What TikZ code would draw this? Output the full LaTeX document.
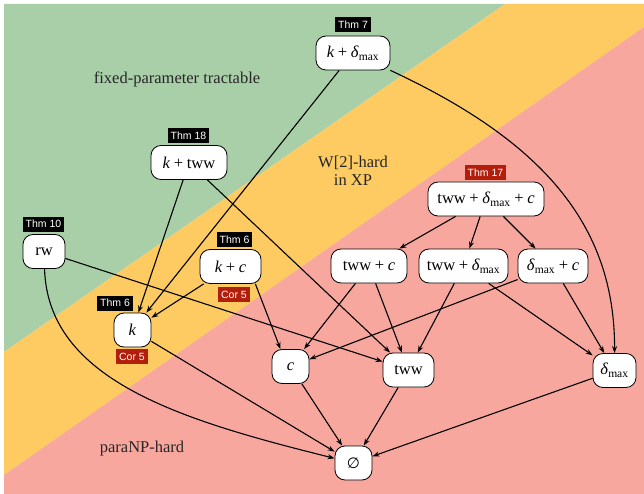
\documentclass[tikz,border=0pt]{standalone}
\usepackage{fontspec}
\setmainfont{Liberation Serif}
\setsansfont{Liberation Sans}
\newfontfamily\symfont{DejaVu Sans}
\usetikzlibrary{arrows.meta}
\definecolor{fptgreen}{RGB}{168,207,167}
\definecolor{xpyellow}{RGB}{253,203,98}
\definecolor{nppink}{RGB}{247,167,158}
\definecolor{lblred}{RGB}{178,30,12}
\newcommand{\pl}{\hspace{0.22em}+\hspace{0.22em}}
\newcommand{\dmx}{\textit{δ}\textsubscript{max}}
\begin{document}
\begin{tikzpicture}[x=1pt,y=1pt,
  pbox/.style={draw=black, line width=0.8pt, fill=white, rounded corners=10pt,
    minimum height=34pt, inner xsep=3pt, inner ysep=2pt,
    font=\fontsize{16.5}{19.8}\selectfont},
  thmlbl/.style={fill=black, text=white, font=\sffamily\fontsize{10.5}{12}\selectfont,
    inner xsep=3pt, inner ysep=2pt, minimum height=15pt},
  redlbl/.style={thmlbl, fill=lblred},
  region/.style={text=black!85, font=\fontsize{16.5}{18}\selectfont, align=center},
  arr/.style={-{Stealth[length=7pt,width=5pt]}, line width=1.1pt}]
\useasboundingbox (0,0) rectangle (644,-494);
\fill[white] (0,0) rectangle (644,-494);
\fill[fptgreen] (4,-4) -- (505,-4) -- (4,-352) -- cycle;
\fill[xpyellow] (505,-4) -- (644,-4) -- (644,-27) -- (4,-475) -- (4,-352) -- cycle;
\fill[nppink] (644,-27) -- (644,-494) -- (4,-494) -- (4,-475) -- cycle;

\node[region] (fpt) at (177,-79) {fixed-parameter tractable};
\node[region] (w2) at (353,-171) {W[2]-hard\\in XP};
\node[region] (pnp) at (142,-449) {paraNP-hard};

\node[pbox, minimum width=74pt] (kd) at (353,-53) {\textit{k}\pl\dmx};
\node[pbox, minimum width=76pt] (kt) at (189,-162.5) {\textit{k}\pl tww};
\node[pbox, minimum width=116pt] (tdc) at (486,-199) {tww\pl\dmx\pl\textit{c}};
\node[pbox, minimum width=42pt] (rw) at (44,-251.5) {rw};
\node[pbox, minimum width=61pt] (kc) at (230.5,-266.5) {\textit{k}\pl\textit{c}};
\node[pbox, minimum width=37pt] (k) at (132.5,-330) {\textit{k}};
\node[pbox, minimum width=76pt] (tc) at (369,-266) {tww\pl\textit{c}};
\node[pbox, minimum width=89pt] (td) at (463.5,-266) {tww\pl\dmx};
\node[pbox, minimum width=70pt] (dc) at (553,-266) {\dmx\pl\textit{c}};
\node[pbox, minimum width=37pt] (c) at (290.5,-366.5) {\textit{c}};
\node[pbox, minimum width=51pt] (t) at (408.5,-370) {tww};
\node[pbox, minimum width=37pt] (e) at (353.5,-463) {{\symfont\fontsize{15}{18}\selectfont ∅}};
\node[pbox, minimum width=43pt] (d) at (614.5,-370.5) {\dmx};

\node[thmlbl] (l7) at (353,-25) {Thm 7};
\node[thmlbl] (l18) at (188.5,-135.5) {Thm 18};
\node[redlbl] (l17) at (485.5,-173) {Thm 17};
\node[thmlbl] (l10) at (43.5,-224) {Thm 10};
\node[thmlbl] (l6a) at (234.5,-239.5) {Thm 6};
\node[redlbl] (c5a) at (234,-294.5) {Cor 5};
\node[thmlbl] (l6b) at (115,-303) {Thm 6};
\node[redlbl] (c5b) at (132,-356.5) {Cor 5};

\draw[arr] (kd) -- (k);
\draw[arr] (kd) .. controls (540,-140) and (615,-223) .. (d);
\draw[arr] (kt) -- (k);
\draw[arr] (kt) -- (t);
\draw[arr] (rw) -- (t);
\draw[arr] (rw) .. controls (48,-380) and (180,-420) .. (e);
\draw[arr] (kc) -- (k);
\draw[arr] ([xshift=-6pt]kc.south east) -- ([xshift=-10pt]c.north);
\draw[arr] (k) -- (e);
\draw[arr] (tdc) -- (tc);
\draw[arr] (tdc) -- (td);
\draw[arr] (tdc) -- (dc);
\draw[arr] (tc) -- (c);
\draw[arr] (tc) -- (t);
\draw[arr] (td) -- (t);
\draw[arr] (td) -- (d);
\draw[arr] (dc) -- (c);
\draw[arr] (dc) -- (d);
\draw[arr] (c) -- (e);
\draw[arr] (t) -- (e);
\draw[arr] (d) -- (e);
\end{tikzpicture}
\end{document}
